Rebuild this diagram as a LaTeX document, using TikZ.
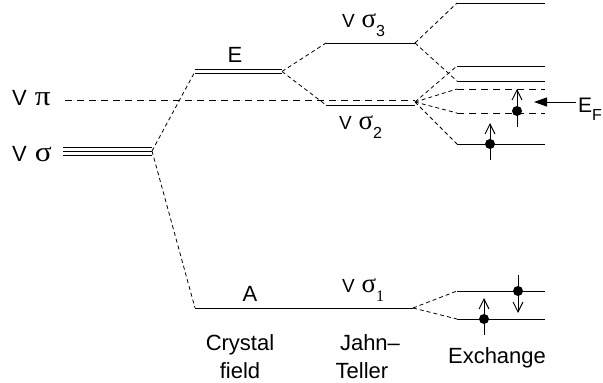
\documentclass[tikz,border=0pt]{standalone}
\usepackage{fontspec}
\usepackage{graphicx}
\setmainfont{Liberation Sans}
\newfontfamily\serifone{Liberation Serif}
\usetikzlibrary{arrows.meta}
\newcommand{\gkL}[1]{\hspace{2pt}{\serifone\fontsize{28}{30}\selectfont\scalebox{1.12}[1]{#1}}}
\newcommand{\gkM}[1]{\hspace{1.5pt}{\serifone\fontsize{27}{30}\selectfont #1}}
\newcommand{\subM}[1]{\raisebox{-9pt}{\fontsize{16}{17}\selectfont #1}}
\begin{document}
\begin{tikzpicture}[x=1pt,y=-1pt,
  level/.style={line width=1pt},
  hdash/.style={line width=1pt, dash pattern=on 7pt off 5pt},
  ddash/.style={line width=0.8pt, dash pattern=on 4pt off 3pt},
  spin/.style={line width=1pt, -{Straight Barb[length=10pt,width=10pt,line width=0.9pt]}},
  dot/.style={circle, fill=black, inner sep=0pt, minimum size=10pt},
  big/.style={font=\fontsize{22}{26}\selectfont, inner sep=0pt},
  vlabL/.style={font=\fontsize{22}{24}\selectfont, inner sep=0pt, anchor=base west},
  vlabM/.style={font=\fontsize{19}{22}\selectfont, inner sep=0pt, anchor=base west}]
\useasboundingbox (0,0) rectangle (603,383);
% level end points
\coordinate (vs-l) at (63,151);  \coordinate (vs-r) at (152,151);
\coordinate (e-l) at (195,71.5); \coordinate (e-r) at (282,71.5);
\coordinate (a-l) at (195,308);  \coordinate (a-r) at (413,308);
\coordinate (s3-l) at (326,43);  \coordinate (s3-r) at (415,43);
\coordinate (s2-l) at (326,105); \coordinate (s2-r) at (415,105);
\coordinate (pi-l) at (65,100);  \coordinate (pi-r) at (415,100);
\coordinate (sp) at (415,102);
\foreach \n/\y in {r1/3,r2/66,r3/81,r4/89,r5/113,r6/144,b1/291,b2/319}{
  \coordinate (\n-l) at (457,\y); \coordinate (\n-r) at (545,\y);
}
% levels
\foreach \s in {-4,0,4}{\draw[level,line width=0.9pt] ([yshift=\s pt]vs-l) -- ([yshift=\s pt]vs-r);}
\foreach \s in {-1.6,1.6}{\draw[level,line width=0.9pt] ([yshift=\s pt]e-l) -- ([yshift=\s pt]e-r);}
\draw[level] (a-l) -- (a-r);
\draw[level] (s3-l) -- (s3-r);
\draw[level] (s2-l) -- (s2-r);
\draw[hdash] (pi-l) -- (pi-r);
\foreach \n in {r1,r2,r3,r6,b1,b2}{\draw[level] (\n-l) -- (\n-r);}
\foreach \n in {r4,r5}{\draw[hdash] (\n-l) -- (\n-r);}
% correlation lines
\draw[ddash] (vs-r) -- (e-l);
\draw[ddash] (vs-r) -- (a-l);
\draw[ddash] (e-r) -- (s3-l);
\draw[ddash] (e-r) -- (s2-l);
\draw[ddash] (s3-r) -- (r1-l);
\draw[ddash] (s3-r) -- (r3-l);
\foreach \n in {r2,r4,r5,r6}{\draw[ddash] (sp) -- (\n-l);}
\draw[ddash] (a-r) -- (b1-l);
\draw[ddash] (a-r) -- (b2-l);
% electrons
\node[dot] (d1) at (517,111) {};
\coordinate (d1-a) at (517,127); \coordinate (d1-b) at (517,89);
\draw[spin] (d1-a) -- (d1-b);
\node[dot] (d2) at (490,144) {};
\coordinate (d2-a) at (490,160); \coordinate (d2-b) at (490,123);
\draw[spin] (d2-a) -- (d2-b);
\node[dot] (d3) at (484,319) {};
\coordinate (d3-a) at (484,335); \coordinate (d3-b) at (484,298);
\draw[spin] (d3-a) -- (d3-b);
\node[dot] (d4) at (518,291) {};
\coordinate (d4-a) at (518,275); \coordinate (d4-b) at (518,313);
\draw[spin] (d4-a) -- (d4-b);
% Fermi level
\node[font=\fontsize{21}{24}\selectfont, inner sep=0pt, anchor=base west] (ef) at (578,112) {E\raisebox{-0.4em}{\fontsize{16}{17}\selectfont F}};
\coordinate (ef-tip) at (534,102);
\draw[line width=1pt, -{Triangle[length=13pt,width=9pt]}] (ef.west |- ef-tip) ++(-2,0) coordinate (ef-tail) -- (ef-tip);
% labels
\node[vlabL] (lpi) at (12,105) {V \gkL{π}};
\node[vlabL] (lsig) at (12,161) {V \gkL{σ}};
\node[vlabM] (ls3) at (342,27) {V \gkM{σ}\subM{3}};
\node[vlabM] (ls2) at (339,129) {V \gkM{σ}\subM{2}};
\node[vlabM] (ls1) at (342,292) {V \gkM{σ}\subM{\serifone 1}};
\node[big, anchor=base] (lE) at (235,62) {E};
\node[big, anchor=base] (lA) at (250,301) {A};
\node[big, anchor=base] (lc1) at (240,350) {Crystal};
\node[big, anchor=base] (lc2) at (240,378) {field};
\node[big, anchor=base] (lj1) at (370,350) {Jahn–};
\node[big, anchor=base] (lj2) at (362,378) {Teller};
\node[big, anchor=base] (lx) at (497,363) {Exchange};
\end{tikzpicture}
\end{document}
